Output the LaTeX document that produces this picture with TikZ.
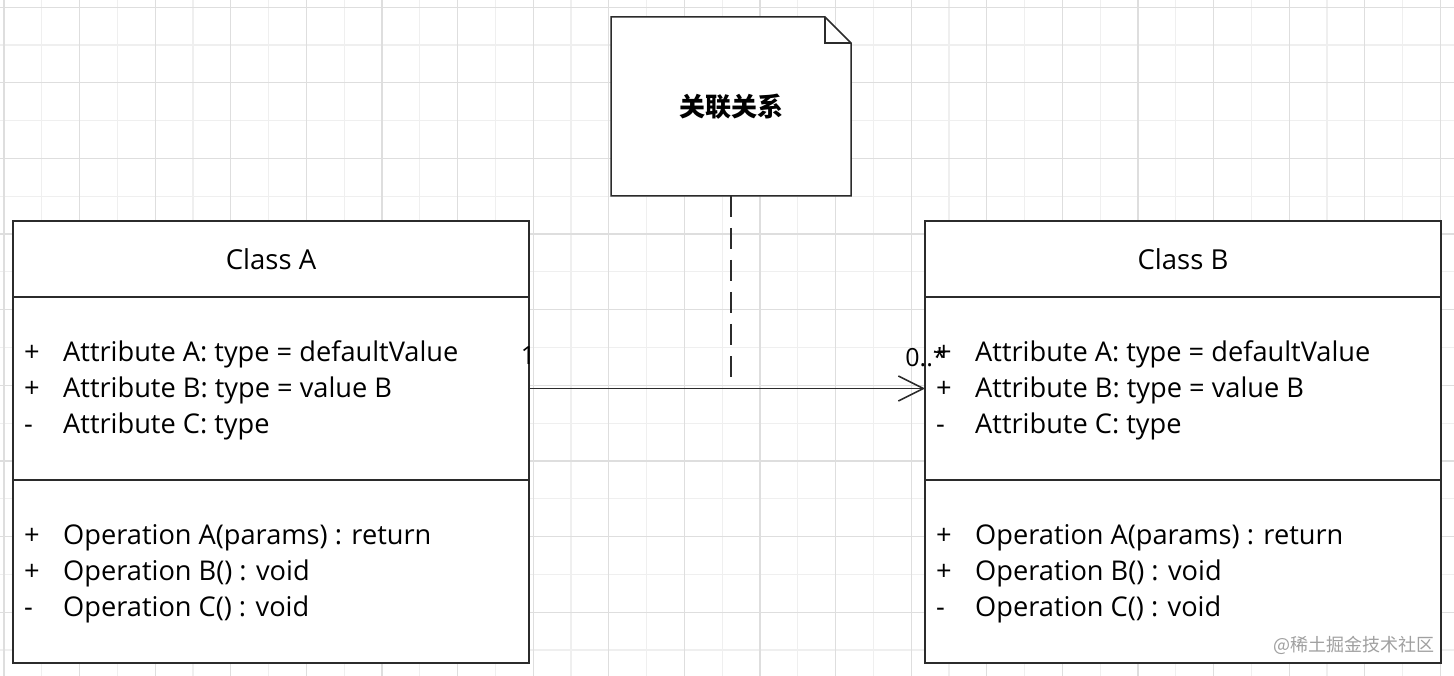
\documentclass[tikz,border=0pt]{standalone}
\usepackage{fontspec}
\setmainfont{Open Sans}
\newfontfamily\cjk{Noto Sans CJK SC}
\usetikzlibrary{arrows.meta}

\definecolor{gridmajor}{HTML}{DEDEDE}
\definecolor{gridminor}{HTML}{EFEFEF}
\definecolor{umlline}{HTML}{2B2B2B}
\definecolor{markgray}{HTML}{A0A0A0}

\newcommand{\visib}[1]{\makebox[39pt][l]{#1}}

\tikzset{
    umlbox/.style={draw=umlline, line width=1.5pt, fill=white, minimum width=516pt, inner sep=0pt, outer sep=0pt},
    members/.style={anchor=west, align=left, inner sep=0pt, font=\fontsize{27.2}{36}\selectfont},
    mult/.style={inner sep=0pt, font=\fontsize{25}{28}\selectfont},
    assoc/.style={draw=umlline, line width=1.5pt, -{Straight Barb[length=25pt,width=25pt]}},
    anchorline/.style={draw=umlline, line width=1.5pt, dash pattern=on 21pt off 11pt},
}

\begin{document}
\begin{tikzpicture}[x=1pt, y=-1pt]
    \useasboundingbox[fill=white] (0,0) rectangle (1454,676);

    % grid
    \foreach \i in {1,3,...,37} \draw[gridminor, line width=1.2pt] ({4+37.8*\i},0) -- ({4+37.8*\i},676);
    \foreach \j in {1,3,...,17} \draw[gridminor, line width=1.2pt] (0,{7.3+37.8*\j}) -- (1454,{7.3+37.8*\j});
    \foreach \i in {0,2,...,38} \draw[gridmajor, line width=1.2pt] ({4+37.8*\i},0) -- ({4+37.8*\i},676);
    \foreach \j in {0,2,...,16} \draw[gridmajor, line width=1.2pt] (0,{7.3+37.8*\j}) -- (1454,{7.3+37.8*\j});

    % class A
    \node[umlbox, minimum height=76pt, font=\fontsize{27.5}{31}\selectfont] (headA) at (271,259) {Class A};
    \node[umlbox, minimum height=183pt, anchor=north] (attrA) at (headA.south) {};
    \node[umlbox, minimum height=183pt, anchor=north] (opsA) at (attrA.south) {};
    \node[members] (attrAtext) at ([xshift=11pt,yshift=-2pt]attrA.west) {\visib{+}Attribute A: type = defaultValue\\ \visib{+}Attribute B: type = value B\\ \visib{-}Attribute C: type};
    \node[members] (opsAtext) at ([xshift=11pt,yshift=-2pt]opsA.west) {\visib{+}Operation A(params) : return\\ \visib{+}Operation B() : void\\ \visib{-}Operation C() : void};

    % class B
    \node[umlbox, minimum height=76pt, font=\fontsize{27.5}{31}\selectfont] (headB) at (1183,259) {Class B};
    \node[umlbox, minimum height=183pt, anchor=north] (attrB) at (headB.south) {};
    \node[umlbox, minimum height=183pt, anchor=north] (opsB) at (attrB.south) {};
    \node[members] (attrBtext) at ([xshift=11pt,yshift=-2pt]attrB.west) {\visib{+}Attribute A: type = defaultValue\\ \visib{+}Attribute B: type = value B\\ \visib{-}Attribute C: type};
    \node[members] (opsBtext) at ([xshift=11pt,yshift=-2pt]opsB.west) {\visib{+}Operation A(params) : return\\ \visib{+}Operation B() : void\\ \visib{-}Operation C() : void};

    % association
    \draw[assoc] (attrA.east) -- (attrB.west);
    \node[mult] (multA) at (528,356) {1};
    \node[mult] (multB) at (926,357) {0..*};

    % note
    \draw[draw=umlline, line width=1.5pt, fill=white] (611,17) -- (825,17) -- (851,43) -- (851,196) -- (611,196) -- cycle;
    \draw[draw=umlline, line width=1.5pt] (825,17) -- (825,43) -- (851,43);
    \node[minimum width=240pt, minimum height=179pt, inner sep=0pt, outer sep=0pt, font=\cjk\bfseries\fontsize{26}{31}\selectfont] (note) at (731,106.5) {关联关系};
    \coordinate (noteend) at (731,380);
    \draw[anchorline] (note.south) -- (noteend);

    % watermark
    \node[inner sep=0pt, text=markgray, font=\cjk\fontsize{18}{22}\selectfont] (mark) at (1354,645) {@稀土掘金技术社区};
\end{tikzpicture}
\end{document}
